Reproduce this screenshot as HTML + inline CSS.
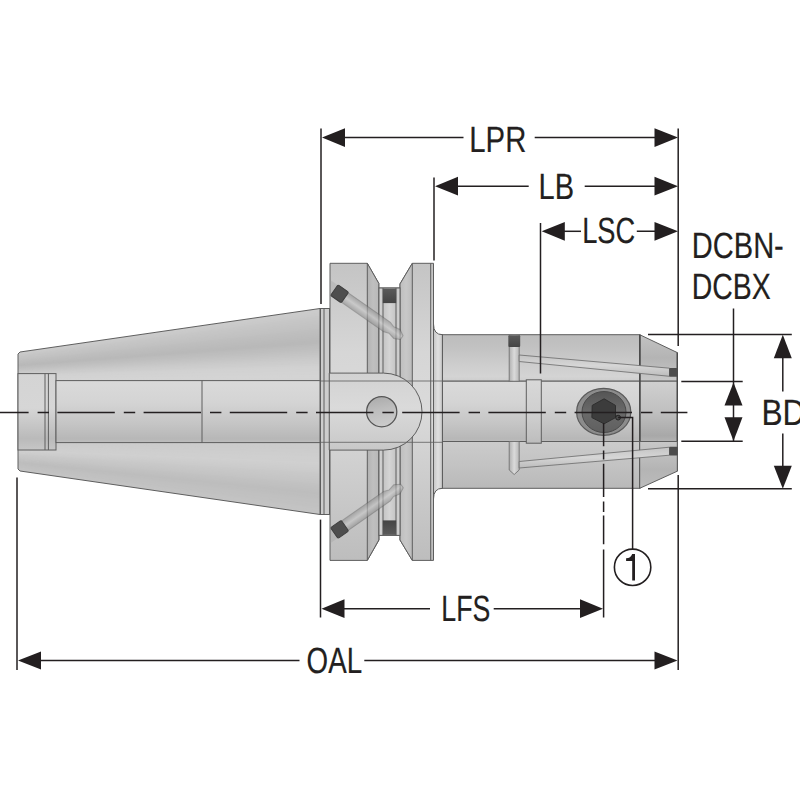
<!DOCTYPE html>
<html><head><meta charset="utf-8">
<style>
html,body{margin:0;padding:0;background:#fff;width:800px;height:800px;overflow:hidden}
svg{display:block}
text{text-rendering:geometricPrecision;font-family:"Liberation Sans",sans-serif;fill:#231f20;stroke:#231f20;stroke-width:0.2}
</style></head><body>
<svg width="800" height="800" viewBox="0 0 800 800">
<defs>
<linearGradient id="gTaper" x1="0" y1="0" x2="0" y2="1">
  <stop offset="0" stop-color="#cfcfcf"/>
  <stop offset="0.18" stop-color="#b9b9b9"/>
  <stop offset="0.33" stop-color="#dadada"/>
  <stop offset="0.67" stop-color="#d2d2d2"/>
  <stop offset="0.85" stop-color="#b4b4b4"/>
  <stop offset="1" stop-color="#cdcdcd"/>
</linearGradient>
<linearGradient id="gBore" x1="0" y1="0" x2="0" y2="1">
  <stop offset="0" stop-color="#d6d6d6"/>
  <stop offset="0.3" stop-color="#c4c4c4"/>
  <stop offset="0.5" stop-color="#dcdcdc"/>
  <stop offset="0.8" stop-color="#bdbdbd"/>
  <stop offset="1" stop-color="#c9c9c9"/>
</linearGradient>
<linearGradient id="gShank" x1="0" y1="0" x2="0" y2="1">
  <stop offset="0" stop-color="#c6c6c6"/>
  <stop offset="0.2" stop-color="#b6b6b6"/>
  <stop offset="0.3" stop-color="#d8d8d8"/>
  <stop offset="0.7" stop-color="#d0d0d0"/>
  <stop offset="0.85" stop-color="#b3b3b3"/>
  <stop offset="1" stop-color="#c4c4c4"/>
</linearGradient>
<linearGradient id="gFlange" x1="0" y1="0" x2="0" y2="1">
  <stop offset="0" stop-color="#c2c2c2"/>
  <stop offset="0.3" stop-color="#d8d8d8"/>
  <stop offset="0.5" stop-color="#dddddd"/>
  <stop offset="0.75" stop-color="#cccccc"/>
  <stop offset="1" stop-color="#b8b8b8"/>
</linearGradient>
<linearGradient id="gChamf" x1="0" y1="0" x2="1" y2="0">
  <stop offset="0" stop-color="#bdbdbd"/>
  <stop offset="0.5" stop-color="#e0e0e0"/>
  <stop offset="1" stop-color="#c4c4c4"/>
</linearGradient>
<linearGradient id="gSlot" x1="0" y1="0" x2="0" y2="1">
  <stop offset="0" stop-color="#d2d2d2"/>
  <stop offset="0.45" stop-color="#dadada"/>
  <stop offset="1" stop-color="#c8c8c8"/>
</linearGradient>
<linearGradient id="gScrew" x1="0" y1="0" x2="0" y2="1">
  <stop offset="0" stop-color="#555"/>
  <stop offset="0.5" stop-color="#6a6a6a"/>
  <stop offset="1" stop-color="#606060"/>
</linearGradient>
<linearGradient id="gHole" x1="0" y1="0" x2="0.2" y2="1">
  <stop offset="0" stop-color="#a9a9a9"/>
  <stop offset="0.5" stop-color="#bdbdbd"/>
  <stop offset="1" stop-color="#cacaca"/>
</linearGradient>

<clipPath id="cTaper"><polygon points="18,354 20,352 320,308.5 320,514.5 20,471 18,469"/></clipPath>
<linearGradient id="uUp" gradientUnits="userSpaceOnUse" x1="0" y1="308" x2="0" y2="515">
  <stop offset="0" stop-color="#cdcdcd"/>
  <stop offset="0.06" stop-color="#c8c8c8"/>
  <stop offset="0.19" stop-color="#b6b6b6"/>
  <stop offset="0.31" stop-color="#d6d6d6"/>
  <stop offset="0.35" stop-color="#d2d2d2"/>
</linearGradient>
<linearGradient id="uLow" gradientUnits="userSpaceOnUse" x1="0" y1="442.6" x2="0" y2="515">
  <stop offset="0" stop-color="#d6d6d6"/>
  <stop offset="0.3" stop-color="#cdcdcd"/>
  <stop offset="0.7" stop-color="#b8b8b8"/>
  <stop offset="1" stop-color="#c8c8c8"/>
</linearGradient>
<linearGradient id="uBore" gradientUnits="userSpaceOnUse" x1="0" y1="381" x2="0" y2="442">
  <stop offset="0" stop-color="#dadada"/>
  <stop offset="0.35" stop-color="#d4d4d4"/>
  <stop offset="0.7" stop-color="#c5c5c5"/>
  <stop offset="0.95" stop-color="#b7b7b7"/>
  <stop offset="1" stop-color="#bdbdbd"/>
</linearGradient>
<linearGradient id="uCb" gradientUnits="userSpaceOnUse" x1="0" y1="373.6" x2="0" y2="450">
  <stop offset="0" stop-color="#d4d4d4"/>
  <stop offset="0.45" stop-color="#d6d6d6"/>
  <stop offset="0.85" stop-color="#bababa"/>
  <stop offset="1" stop-color="#c6c6c6"/>
</linearGradient>
<linearGradient id="uSUp" gradientUnits="userSpaceOnUse" x1="0" y1="334.7" x2="0" y2="381.2">
  <stop offset="0" stop-color="#bdbdbd"/>
  <stop offset="0.25" stop-color="#c1c1c1"/>
  <stop offset="0.6" stop-color="#cccccc"/>
  <stop offset="0.9" stop-color="#d4d4d4"/>
  <stop offset="1" stop-color="#cdcdcd"/>
</linearGradient>
<linearGradient id="uSLow" gradientUnits="userSpaceOnUse" x1="0" y1="441.5" x2="0" y2="488.3">
  <stop offset="0" stop-color="#cbcbcb"/>
  <stop offset="0.5" stop-color="#c3c3c3"/>
  <stop offset="1" stop-color="#b9b9b9"/>
</linearGradient>
<linearGradient id="uNUp" gradientUnits="userSpaceOnUse" x1="0" y1="334.7" x2="0" y2="381.2">
  <stop offset="0" stop-color="#c2c2c2"/>
  <stop offset="0.5" stop-color="#b4b4b4"/>
  <stop offset="1" stop-color="#c8c8c8"/>
</linearGradient>
<linearGradient id="uNBore" gradientUnits="userSpaceOnUse" x1="0" y1="381" x2="0" y2="442">
  <stop offset="0" stop-color="#d0d0d0"/>
  <stop offset="0.5" stop-color="#c0c0c0"/>
  <stop offset="0.9" stop-color="#a8a8a8"/>
  <stop offset="1" stop-color="#b4b4b4"/>
</linearGradient>
<linearGradient id="uNLow" gradientUnits="userSpaceOnUse" x1="0" y1="441.5" x2="0" y2="488.3">
  <stop offset="0" stop-color="#c8c8c8"/>
  <stop offset="0.6" stop-color="#b4b4b4"/>
  <stop offset="1" stop-color="#bcbcbc"/>
</linearGradient>
<linearGradient id="uCol" gradientUnits="userSpaceOnUse" x1="0" y1="380" x2="0" y2="443">
  <stop offset="0" stop-color="#d8d8d8"/>
  <stop offset="0.6" stop-color="#cdcdcd"/>
  <stop offset="1" stop-color="#bdbdbd"/>
</linearGradient>
<linearGradient id="uFl" gradientUnits="userSpaceOnUse" x1="0" y1="263" x2="0" y2="561">
  <stop offset="0" stop-color="#c4c4c4"/>
  <stop offset="0.3" stop-color="#d6d6d6"/>
  <stop offset="0.5" stop-color="#dadada"/>
  <stop offset="0.75" stop-color="#cbcbcb"/>
  <stop offset="1" stop-color="#bdbdbd"/>
</linearGradient>
<linearGradient id="gCh1" x1="0" y1="0" x2="1" y2="0">
  <stop offset="0" stop-color="#b2b2b2"/>
  <stop offset="0.5" stop-color="#bfbfbf"/>
  <stop offset="1" stop-color="#b8b8b8"/>
</linearGradient>
<linearGradient id="gCh2" x1="0" y1="0" x2="1" y2="0">
  <stop offset="0" stop-color="#bebebe"/>
  <stop offset="0.5" stop-color="#c8c8c8"/>
  <stop offset="1" stop-color="#bcbcbc"/>
</linearGradient>
<linearGradient id="gGroove" x1="0" y1="0" x2="1" y2="0">
  <stop offset="0" stop-color="#d8d8d8"/>
  <stop offset="0.2" stop-color="#c4c4c4"/>
  <stop offset="0.5" stop-color="#d4d4d4"/>
  <stop offset="0.8" stop-color="#c4c4c4"/>
  <stop offset="1" stop-color="#d4d4d4"/>
</linearGradient>
<linearGradient id="gFil" x1="0" y1="0" x2="1" y2="0">
  <stop offset="0" stop-color="#c6c6c6"/>
  <stop offset="0.5" stop-color="#e0e0e0"/>
  <stop offset="1" stop-color="#c8c8c8"/>
</linearGradient>
<clipPath id="cFl"><rect x="330" y="263" width="104" height="298"/></clipPath>
<linearGradient id="gCapT" x1="0" y1="0" x2="0" y2="1"><stop offset="0" stop-color="#5a5a5a"/><stop offset="1" stop-color="#444"/></linearGradient>
<linearGradient id="gCapB" x1="0" y1="0" x2="0" y2="1"><stop offset="0" stop-color="#444"/><stop offset="1" stop-color="#5a5a5a"/></linearGradient>
<linearGradient id="gTubeV" x1="0" y1="0" x2="1" y2="0"><stop offset="0" stop-color="#b0b0b0"/><stop offset="0.5" stop-color="#dadada"/><stop offset="1" stop-color="#b8b8b8"/></linearGradient>
<linearGradient id="gTubeH" x1="0" y1="0" x2="0" y2="1"><stop offset="0" stop-color="#c4c4c4"/><stop offset="0.5" stop-color="#d6d6d6"/><stop offset="1" stop-color="#bcbcbc"/></linearGradient>
<linearGradient id="gRod" x1="0" y1="0" x2="0" y2="1"><stop offset="0" stop-color="#8c8c8c"/><stop offset="0.5" stop-color="#c8c8c8"/><stop offset="1" stop-color="#8a8a8a"/></linearGradient>
</defs>

<!-- ===== BODY ===== -->
<g stroke="#5e5e5e" stroke-width="1">
  <!-- taper -->
  <g clip-path="url(#cTaper)"><g stroke="none"><polygon points="18.0,352.00 320.0,308.50 320.0,312.18 18.0,353.50" fill="#cccccc"/><polygon points="18.0,352.75 320.0,310.34 320.0,314.01 18.0,354.25" fill="#cbcbcb"/><polygon points="18.0,353.50 320.0,312.18 320.0,315.85 18.0,355.00" fill="#cacaca"/><polygon points="18.0,354.25 320.0,314.01 320.0,317.69 18.0,355.75" fill="#c9c9c9"/><polygon points="18.0,355.00 320.0,315.85 320.0,319.52 18.0,356.50" fill="#c7c7c7"/><polygon points="18.0,355.75 320.0,317.69 320.0,321.36 18.0,357.25" fill="#c6c6c6"/><polygon points="18.0,356.50 320.0,319.52 320.0,323.20 18.0,358.00" fill="#c5c5c5"/><polygon points="18.0,357.25 320.0,321.36 320.0,325.04 18.0,358.75" fill="#c4c4c4"/><polygon points="18.0,358.00 320.0,323.20 320.0,326.88 18.0,359.50" fill="#c3c3c3"/><polygon points="18.0,358.75 320.0,325.04 320.0,328.71 18.0,360.25" fill="#c2c2c2"/><polygon points="18.0,359.50 320.0,326.88 320.0,330.55 18.0,361.00" fill="#c1c1c1"/><polygon points="18.0,360.25 320.0,328.71 320.0,332.39 18.0,361.75" fill="#bfbfbf"/><polygon points="18.0,361.00 320.0,330.55 320.0,334.23 18.0,362.50" fill="#bebebe"/><polygon points="18.0,361.75 320.0,332.39 320.0,336.06 18.0,363.25" fill="#bdbdbd"/><polygon points="18.0,362.50 320.0,334.23 320.0,337.90 18.0,364.00" fill="#bcbcbc"/><polygon points="18.0,363.25 320.0,336.06 320.0,339.74 18.0,364.75" fill="#bbbbbb"/><polygon points="18.0,364.00 320.0,337.90 320.0,341.57 18.0,365.50" fill="#bababa"/><polygon points="18.0,364.75 320.0,339.74 320.0,343.41 18.0,366.25" fill="#b9b9b9"/><polygon points="18.0,365.50 320.0,341.57 320.0,345.25 18.0,367.00" fill="#b9b9b9"/><polygon points="18.0,366.25 320.0,343.41 320.0,347.09 18.0,367.75" fill="#bbbbbb"/><polygon points="18.0,367.00 320.0,345.25 320.0,348.93 18.0,368.50" fill="#bdbdbd"/><polygon points="18.0,367.75 320.0,347.09 320.0,350.76 18.0,369.25" fill="#bebebe"/><polygon points="18.0,368.50 320.0,348.93 320.0,352.60 18.0,370.00" fill="#c0c0c0"/><polygon points="18.0,369.25 320.0,350.76 320.0,354.44 18.0,370.75" fill="#c2c2c2"/><polygon points="18.0,370.00 320.0,352.60 320.0,356.27 18.0,371.50" fill="#c4c4c4"/><polygon points="18.0,370.75 320.0,354.44 320.0,358.11 18.0,372.25" fill="#c6c6c6"/><polygon points="18.0,371.50 320.0,356.27 320.0,359.95 18.0,373.00" fill="#c8c8c8"/><polygon points="18.0,372.25 320.0,358.11 320.0,361.79 18.0,373.75" fill="#cacaca"/><polygon points="18.0,373.00 320.0,359.95 320.0,363.62 18.0,374.50" fill="#cccccc"/><polygon points="18.0,373.75 320.0,361.79 320.0,365.46 18.0,375.25" fill="#cdcdcd"/><polygon points="18.0,374.50 320.0,363.62 320.0,367.30 18.0,376.00" fill="#cfcfcf"/><polygon points="18.0,375.25 320.0,365.46 320.0,369.14 18.0,376.75" fill="#d1d1d1"/><polygon points="18.0,376.00 320.0,367.30 320.0,370.98 18.0,377.50" fill="#d2d2d2"/><polygon points="18.0,376.75 320.0,369.14 320.0,372.81 18.0,378.25" fill="#d2d2d2"/><polygon points="18.0,377.50 320.0,370.98 320.0,374.65 18.0,379.00" fill="#d3d3d3"/><polygon points="18.0,378.25 320.0,372.81 320.0,376.49 18.0,379.75" fill="#d3d3d3"/><polygon points="18.0,379.00 320.0,374.65 320.0,378.32 18.0,380.50" fill="#d4d4d4"/><polygon points="18.0,379.75 320.0,376.49 320.0,380.16 18.0,381.25" fill="#d4d4d4"/><polygon points="18.0,380.50 320.0,378.32 320.0,382.00 18.0,382.00" fill="#d3d3d3"/><polygon points="18.0,381.25 320.0,380.16 320.0,382.00 18.0,382.00" fill="#d0d0d0"/></g><g stroke="none"><polygon points="18.0,442.00 320.0,442.00 320.0,445.62 18.0,443.45" fill="#cbcbcb"/><polygon points="18.0,442.73 320.0,443.81 320.0,447.44 18.0,444.18" fill="#cccccc"/><polygon points="18.0,443.45 320.0,445.62 320.0,449.25 18.0,444.90" fill="#cccccc"/><polygon points="18.0,444.18 320.0,447.44 320.0,451.06 18.0,445.62" fill="#cccccc"/><polygon points="18.0,444.90 320.0,449.25 320.0,452.88 18.0,446.35" fill="#cdcdcd"/><polygon points="18.0,445.62 320.0,451.06 320.0,454.69 18.0,447.07" fill="#cdcdcd"/><polygon points="18.0,446.35 320.0,452.88 320.0,456.50 18.0,447.80" fill="#cecece"/><polygon points="18.0,447.07 320.0,454.69 320.0,458.31 18.0,448.52" fill="#cecece"/><polygon points="18.0,447.80 320.0,456.50 320.0,460.12 18.0,449.25" fill="#cfcfcf"/><polygon points="18.0,448.52 320.0,458.31 320.0,461.94 18.0,449.98" fill="#cfcfcf"/><polygon points="18.0,449.25 320.0,460.12 320.0,463.75 18.0,450.70" fill="#cfcfcf"/><polygon points="18.0,449.98 320.0,461.94 320.0,465.56 18.0,451.43" fill="#d0d0d0"/><polygon points="18.0,450.70 320.0,463.75 320.0,467.38 18.0,452.15" fill="#cfcfcf"/><polygon points="18.0,451.43 320.0,465.56 320.0,469.19 18.0,452.88" fill="#cecece"/><polygon points="18.0,452.15 320.0,467.38 320.0,471.00 18.0,453.60" fill="#cdcdcd"/><polygon points="18.0,452.88 320.0,469.19 320.0,472.81 18.0,454.32" fill="#cccccc"/><polygon points="18.0,453.60 320.0,471.00 320.0,474.62 18.0,455.05" fill="#cbcbcb"/><polygon points="18.0,454.32 320.0,472.81 320.0,476.44 18.0,455.77" fill="#c9c9c9"/><polygon points="18.0,455.05 320.0,474.62 320.0,478.25 18.0,456.50" fill="#c8c8c8"/><polygon points="18.0,455.77 320.0,476.44 320.0,480.06 18.0,457.23" fill="#c7c7c7"/><polygon points="18.0,456.50 320.0,478.25 320.0,481.88 18.0,457.95" fill="#c6c6c6"/><polygon points="18.0,457.23 320.0,480.06 320.0,483.69 18.0,458.68" fill="#c5c5c5"/><polygon points="18.0,457.95 320.0,481.88 320.0,485.50 18.0,459.40" fill="#c4c4c4"/><polygon points="18.0,458.68 320.0,483.69 320.0,487.31 18.0,460.12" fill="#c2c2c2"/><polygon points="18.0,459.40 320.0,485.50 320.0,489.12 18.0,460.85" fill="#c1c1c1"/><polygon points="18.0,460.12 320.0,487.31 320.0,490.94 18.0,461.57" fill="#c0c0c0"/><polygon points="18.0,460.85 320.0,489.12 320.0,492.75 18.0,462.30" fill="#bfbfbf"/><polygon points="18.0,461.57 320.0,490.94 320.0,494.56 18.0,463.02" fill="#bebebe"/><polygon points="18.0,462.30 320.0,492.75 320.0,496.38 18.0,463.75" fill="#bdbdbd"/><polygon points="18.0,463.02 320.0,494.56 320.0,498.19 18.0,464.48" fill="#bebebe"/><polygon points="18.0,463.75 320.0,496.38 320.0,500.00 18.0,465.20" fill="#bebebe"/><polygon points="18.0,464.48 320.0,498.19 320.0,501.81 18.0,465.93" fill="#bfbfbf"/><polygon points="18.0,465.20 320.0,500.00 320.0,503.62 18.0,466.65" fill="#c0c0c0"/><polygon points="18.0,465.93 320.0,501.81 320.0,505.44 18.0,467.38" fill="#c0c0c0"/><polygon points="18.0,466.65 320.0,503.62 320.0,507.25 18.0,468.10" fill="#c1c1c1"/><polygon points="18.0,467.38 320.0,505.44 320.0,509.06 18.0,468.82" fill="#c1c1c1"/><polygon points="18.0,468.10 320.0,507.25 320.0,510.88 18.0,469.55" fill="#c2c2c2"/><polygon points="18.0,468.82 320.0,509.06 320.0,512.69 18.0,470.27" fill="#c3c3c3"/><polygon points="18.0,469.55 320.0,510.88 320.0,514.50 18.0,471.00" fill="#c3c3c3"/><polygon points="18.0,470.27 320.0,512.69 320.0,514.50 18.0,471.00" fill="#c4c4c4"/></g></g>
  <polygon points="18,354 20,352 320,308.5 320,514.5 20,471 18,469" fill="none"/>
  <rect x="18" y="373.6" width="38" height="76.4" fill="url(#uCb)"/>
  <rect x="56" y="380.6" width="264" height="62" fill="url(#uBore)"/>
  <line x1="45" y1="373.6" x2="45" y2="450"/>
  <line x1="48.4" y1="373.6" x2="48.4" y2="450"/>
  <line x1="202" y1="380.6" x2="202" y2="442.6"/>
  <!-- taper end rings -->
  <rect x="320.5" y="308.5" width="9" height="206" fill="#cdcdcd"/>
  <line x1="324" y1="308.5" x2="324" y2="514.5"/>

  <!-- shank -->
  <rect x="432.5" y="334.7" width="207.2" height="46.5" fill="url(#uSUp)"/>
  <rect x="432.5" y="381.2" width="207.2" height="60.3" fill="url(#uBore)"/>
  <rect x="432.5" y="441.5" width="207.2" height="46.8" fill="url(#uSLow)"/>
  <polygon points="639.7,334.7 677.3,352.6 677.3,381.2 639.7,381.2" fill="url(#uNUp)"/>
  <rect x="639.7" y="381.2" width="37.6" height="60.3" fill="url(#uNBore)"/>
  <line x1="639.9" y1="334.7" x2="639.9" y2="488.3" stroke="#4a4a4a" stroke-width="1.6"/>
  <line x1="677.3" y1="352.6" x2="677.3" y2="471.2" stroke="#4a4a4a" stroke-width="1.4"/>
  <polygon points="639.7,441.5 677.3,441.5 677.3,471.2 639.7,488.3" fill="url(#uNLow)"/>
  <path d="M433.5,324 Q433.5,334.7 442.5,334.7 V488.3 Q433.5,488.3 433.5,499 Z" fill="url(#gFil)"/>
  <line x1="442.4" y1="334.7" x2="442.4" y2="488.3"/>
  <rect x="526.3" y="379.8" width="15" height="63.4" fill="url(#uCol)"/>

  <!-- flange -->
  <path d="M330,263.3 H367.3 L378.8,283.4 V288 H400 V283.9 L412.3,263.3 H433.5 V560.4 H412.3 L400,540 V535.4 H379 V540 L367.3,560.4 H330 Z" fill="url(#uFl)"/>
  <polygon points="367.3,263.3 378.8,283.4 378.8,540 367.3,560.4" fill="url(#gCh1)"/>
  <polygon points="412.3,263.3 400,283.9 400,540 412.3,560.4" fill="url(#gCh2)"/>
  <rect x="379" y="288" width="21" height="247.4" fill="url(#gGroove)"/>
  <line x1="383" y1="288" x2="383" y2="535.4"/>
  <line x1="396" y1="288" x2="396" y2="535.4"/>
  <line x1="430.7" y1="263.3" x2="430.7" y2="560.4"/>
  <!-- groove caps -->
  <rect x="382.8" y="288.6" width="13.4" height="14.5" fill="url(#gCapT)" stroke="none"/>
  <rect x="382.8" y="520.4" width="13.4" height="14.5" fill="url(#gCapB)" stroke="none"/>

  <!-- slot -->
  <path d="M329.25,373.1 H383.5 A38.5,38.5 0 0 1 383.5,450.1 H329.25 Z" fill="url(#gSlot)"/>
  <line x1="320.5" y1="381" x2="442.4" y2="381" stroke-opacity="0.8"/>
  <line x1="320.5" y1="442.3" x2="442.4" y2="442.3" stroke-opacity="0.8"/>
  <circle cx="381.7" cy="411.7" r="15.1" fill="url(#gHole)" stroke="#555" stroke-width="1.3"/>

  <!-- angled pins -->
  <g clip-path="url(#cFl)"><g transform="translate(339.6,293.8) rotate(35)">
    <rect x="-16" y="-6" width="16" height="12" fill="#9a9a9a" opacity="0.3" stroke="none"/>
    <path d="M0,-5.8 H58 L63,-4 L70,-5.5 L76,-2 V2.5 L70,5.5 L63,4 L58,5.8 H0 Z" fill="url(#gRod)" opacity="0.6" stroke="#555" stroke-opacity="0.6"/>
    <rect x="-6.5" y="-6.5" width="13" height="13" rx="1.5" fill="#4e4e4e" stroke="#3e3e3e"/>
  </g></g>
  <g clip-path="url(#cFl)"><g transform="translate(339.6,529.4) rotate(-35)">
    <rect x="-16" y="-6" width="16" height="12" fill="#9a9a9a" opacity="0.3" stroke="none"/>
    <path d="M0,-5.8 H58 L63,-4 L70,-5.5 L76,-2 V2.5 L70,5.5 L63,4 L58,5.8 H0 Z" fill="url(#gRod)" opacity="0.6" stroke="#555" stroke-opacity="0.6"/>
    <rect x="-6.5" y="-6.5" width="13" height="13" rx="1.5" fill="#4e4e4e" stroke="#3e3e3e"/>
  </g></g>
  <!-- coolant channels -->
  <g stroke="#6a6a6a" stroke-opacity="0.8">
    <rect x="509.2" y="334.7" width="10" height="46.5" fill="url(#gTubeV)"/>
    <polygon points="509.2,441.5 519.2,441.5 519.2,470 514.2,474.5 509.2,470" fill="url(#gTubeV)"/>
    <polygon points="519.2,355 669.5,368.2 669.5,376.3 519.2,361.5" fill="url(#gTubeH)"/>
    <polygon points="519.2,461.5 669.5,447.2 669.5,455.2 519.2,468" fill="url(#gTubeH)"/>
  </g>
  <rect x="508.4" y="335.2" width="11.8" height="11.8" rx="1" fill="url(#gCapT)" stroke="none"/>
  <rect x="669.2" y="368" width="8.5" height="8.8" rx="1" fill="#4c4c4c" stroke="none"/>
  <rect x="669.2" y="446.8" width="8.5" height="8.8" rx="1" fill="#4c4c4c" stroke="none"/>

  <!-- screw -->
  <ellipse cx="603.7" cy="411.9" rx="27.1" ry="23.5" fill="#8c8c8c" stroke="#5a5a5a" stroke-width="1.2"/>
  <ellipse cx="604" cy="412" rx="22" ry="20.5" fill="url(#gScrew)" stroke="#4a4a4a" stroke-width="1"/>
  <polygon points="604.1,398.8 615.5,405.4 615.5,417.6 604.1,423.8 591.9,417.6 592.2,405.4" fill="#3c3c3c" stroke="#2e2e2e" stroke-width="1"/>
  <circle cx="618.1" cy="417.6" r="2.4" fill="#4a4a4a" stroke="#222" stroke-width="1"/>
</g>

<!-- centerline -->
<line x1="-28.8" y1="412.5" x2="687.4" y2="412.5" stroke="#231f20" stroke-width="1.7" stroke-dasharray="57.4 9 11.4 8.4"/>

<!-- ===== DIMENSIONS ===== -->
<g stroke="#231f20" stroke-width="1.5" fill="none">
  <line x1="321" y1="128.5" x2="321" y2="304"/>
  <line x1="434" y1="177.5" x2="434" y2="260.5"/>
  <line x1="540.5" y1="223" x2="540.5" y2="373.5"/>
  <line x1="678.2" y1="128.5" x2="678.2" y2="346"/>
  <line x1="678.2" y1="475" x2="678.2" y2="670"/>
  <line x1="17" y1="477.6" x2="17" y2="670"/>
  <line x1="320.5" y1="519.6" x2="320.5" y2="617.5"/>
  <!-- LPR -->
  <line x1="330" y1="137.6" x2="463.5" y2="137.6"/>
  <line x1="534.7" y1="137.6" x2="670" y2="137.6"/>
  <!-- LB -->
  <line x1="444" y1="186.2" x2="528.7" y2="186.2"/>
  <line x1="584.7" y1="186.2" x2="670" y2="186.2"/>
  <!-- LSC -->
  <line x1="550" y1="231.3" x2="581" y2="231.3"/>
  <line x1="636.8" y1="231.3" x2="670" y2="231.3"/>
  <!-- LFS -->
  <line x1="330" y1="608.7" x2="430" y2="608.7"/>
  <line x1="493.7" y1="608.7" x2="595" y2="608.7"/>
  <!-- OAL -->
  <line x1="25" y1="660.4" x2="299.5" y2="660.4"/>
  <line x1="364.3" y1="660.4" x2="670" y2="660.4"/>
  <!-- BD / DCBN extension lines -->
  <line x1="648" y1="334.6" x2="791.8" y2="334.6"/>
  <line x1="648" y1="488.7" x2="791.8" y2="488.7"/>
  <line x1="681.3" y1="381.4" x2="742.7" y2="381.4"/>
  <line x1="681.3" y1="441.2" x2="742.7" y2="441.2"/>
  <!-- DCBN vertical -->
  <line x1="733.5" y1="308.5" x2="733.5" y2="441"/>
  <!-- BD vertical -->
  <line x1="782.8" y1="340" x2="782.8" y2="391.5"/>
  <line x1="782.8" y1="433.6" x2="782.8" y2="483"/>
  <!-- screw vertical dash-dot -->
  <path d="M603.6,423 V446.3 M603.6,450.6 V459.4 M603.6,463.8 V497 M603.6,501.4 V511.9 M603.6,515.4 V544.3 M603.6,549.5 V617.5"/>
  <!-- callout leader -->
  <polyline points="618.1,417.6 632.6,417.6 632.6,549.5"/>
  <circle cx="632.6" cy="567.3" r="18.2" stroke-width="1.6"/>
</g>
<g fill="#231f20">
  <polygon points="322,137.6 345,128.2 345,147"/>
  <polygon points="678,137.6 654.5,128.2 654.5,147"/>
  <polygon points="435,186.2 458,176.8 458,195.6"/>
  <polygon points="678,186.2 654.5,176.8 654.5,195.6"/>
  <polygon points="541.7,231.3 564.8,221.9 564.8,240.7"/>
  <polygon points="678,231.3 654.5,221.9 654.5,240.7"/>
  <polygon points="321.5,608.7 344.5,599.3 344.5,618.1"/>
  <polygon points="603,608.7 580,599.3 580,618.1"/>
  <polygon points="18,660.4 41,651.6 41,669.4"/>
  <polygon points="677.5,660.4 654.5,651.6 654.5,669.4"/>
  <polygon points="733.5,382.5 724.5,405.5 742.5,405.5"/>
  <polygon points="733.5,441 724.5,417.2 742.5,417.2"/>
  <polygon points="782.8,334.8 773.8,358.2 791.8,358.2"/>
  <polygon points="782.8,488.7 773.8,465.8 791.8,465.8"/>
</g>
<g>
  <text x="469.3" y="151.9" font-size="36.5" textLength="57" lengthAdjust="spacingAndGlyphs">LPR</text>
  <text x="538.5" y="198.8" font-size="36.5" textLength="35.5" lengthAdjust="spacingAndGlyphs">LB</text>
  <text x="582.2" y="243.2" font-size="36.5" textLength="53" lengthAdjust="spacingAndGlyphs">LSC</text>
  <text x="691.8" y="257.8" font-size="36.5" textLength="92" lengthAdjust="spacingAndGlyphs">DCBN-</text>
  <text x="691.8" y="299.0" font-size="36.5" textLength="79" lengthAdjust="spacingAndGlyphs">DCBX</text>
  <text x="761.5" y="424.8" font-size="36.5" textLength="44" lengthAdjust="spacingAndGlyphs">BD</text>
  <text x="441.3" y="621.1" font-size="36.5" textLength="49" lengthAdjust="spacingAndGlyphs">LFS</text>
  <text x="306.6" y="672.9" font-size="36.5" textLength="55.5" lengthAdjust="spacingAndGlyphs">OAL</text>
  <path d="M632.2,554 H635 V580.4 H632.2 V561 H626.1 V558.2 Q630.8,558.2 632.2,554 Z" fill="#231f20"/>
</g>
</svg>
</body></html>
